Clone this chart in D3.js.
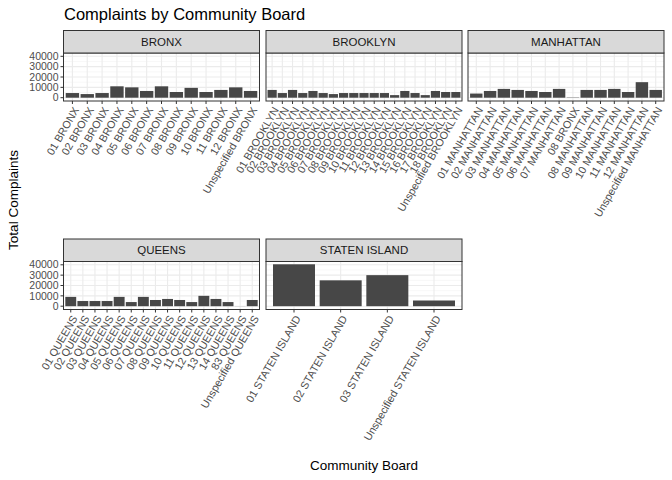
<!DOCTYPE html><html><head><script src="https://cdn.jsdelivr.net/npm/d3@7"></script>
<style>body{margin:0;background:#fff}text{font-family:"Liberation Sans",Arial,sans-serif}</style></head><body><svg id="c" width="672" height="480"></svg>
<script>
const bronxBoards=["01 BRONX","02 BRONX","03 BRONX","04 BRONX","05 BRONX","06 BRONX","07 BRONX","08 BRONX","09 BRONX","10 BRONX","11 BRONX","12 BRONX","Unspecified BRONX"];
const bronxValues=[4500,3500,4500,11000,10000,6500,11000,5500,9500,5500,7500,10000,6500];
const brooklynBoards=[...Array(18)].map((_,i)=>String(i+1).padStart(2,"0")+" BROOKLYN").concat(["Unspecified BROOKLYN"]);
const brooklynValues=[7500,4500,7500,4500,6500,4500,3500,4500,4500,4500,4500,4500,2500,6500,4500,2500,6500,5500,5500];
const manhattanBoards=["01 MANHATTAN","02 MANHATTAN","03 MANHATTAN","04 MANHATTAN","05 MANHATTAN","06 MANHATTAN","07 MANHATTAN","08 BRONX","08 MANHATTAN","09 MANHATTAN","10 MANHATTAN","11 MANHATTAN","12 MANHATTAN","Unspecified MANHATTAN"];
const manhattanValues=[4000,6500,8500,7500,6500,5500,8500,300,7500,7500,8500,5500,15000,7500];
const queensBoards=[...Array(14)].map((_,i)=>String(i+1).padStart(2,"0")+" QUEENS").concat(["83 QUEENS","Unspecified QUEENS"]);
const queensValues=[9000,5000,5000,5000,9000,4000,9000,6000,7000,6000,4000,10000,7000,4000,100,6000];
const statenBoards=["01 STATEN ISLAND","02 STATEN ISLAND","03 STATEN ISLAND","Unspecified STATEN ISLAND"];
const statenValues=[40500,25000,30000,5500];
const yTicks=[0,10000,20000,30000,40000];

const panels=[
 {name:"BRONX",b:bronxBoards,v:bronxValues,x0:63.5,row:0},
 {name:"BROOKLYN",b:brooklynBoards,v:brooklynValues,x0:266,row:0},
 {name:"MANHATTAN",b:manhattanBoards,v:manhattanValues,x0:468,row:0},
 {name:"QUEENS",b:queensBoards,v:queensValues,x0:63.5,row:1},
 {name:"STATEN ISLAND",b:statenBoards,v:statenValues,x0:266,row:1}];
const svg=d3.select("#c");
const W=196, rows=[{st:30.5,pt:53,pb:101},{st:239,pt:261.5,pb:309.5}];
svg.append("text").attr("x",64).attr("y",20).attr("font-size",16.5).attr("fill","#000").text("Complaints by Community Board");
panels.forEach(p=>{
 const r=rows[p.row];
 const y=d3.scaleLinear().domain([0,40000]).range([r.pb-3.3,r.pb-3.3-41.4]);
 const n=p.b.length, unit=W/(n-1+1.2);
 const xc=i=>p.x0+unit*(0.6+i);
 const g=svg.append("g");
 g.append("rect").attr("x",p.x0).attr("y",r.pt).attr("width",W).attr("height",r.pb-r.pt).attr("fill","#fff");
 const minor=d3.range(-5000,50000,10000).filter(v=>y(v)>r.pt&&y(v)<r.pb);
 minor.forEach(v=>g.append("line").attr("x1",p.x0).attr("x2",p.x0+W).attr("y1",y(v)).attr("y2",y(v)).attr("stroke","#f2f2f2").attr("stroke-width",0.6));
 yTicks.forEach(v=>g.append("line").attr("x1",p.x0).attr("x2",p.x0+W).attr("y1",y(v)).attr("y2",y(v)).attr("stroke","#ebebeb").attr("stroke-width",1.1));
 p.b.forEach((_,i)=>g.append("line").attr("x1",xc(i)).attr("x2",xc(i)).attr("y1",r.pt).attr("y2",r.pb).attr("stroke","#ebebeb").attr("stroke-width",1.1));
 p.v.forEach((v,i)=>g.append("rect").attr("x",xc(i)-unit*0.45).attr("width",unit*0.9).attr("y",y(v)).attr("height",y(0)-y(v)).attr("fill","#474747"));
 g.append("rect").attr("x",p.x0).attr("y",r.pt).attr("width",W).attr("height",r.pb-r.pt).attr("fill","none").attr("stroke","#333").attr("stroke-width",1);
 g.append("rect").attr("x",p.x0).attr("y",r.st).attr("width",W).attr("height",r.pt-r.st).attr("fill","#d9d9d9").attr("stroke","#333").attr("stroke-width",1);
 g.append("text").attr("x",p.x0+W/2).attr("y",(r.st+r.pt)/2+4).attr("text-anchor","middle").attr("font-size",11.5).attr("fill","#1a1a1a").text(p.name);
 p.b.forEach((b,i)=>{
  g.append("line").attr("x1",xc(i)).attr("x2",xc(i)).attr("y1",r.pb).attr("y2",r.pb+3).attr("stroke","#333");
  g.append("text").attr("transform",`translate(${xc(i)+0.5},${r.pb+5}) rotate(-60)`).attr("text-anchor","end").attr("dy","0.7em").attr("font-size",10.8).attr("fill","#4d4d4d").text(b);
 });
 if(p.x0<100){
  yTicks.forEach(v=>{
   g.append("line").attr("x1",p.x0-3).attr("x2",p.x0).attr("y1",y(v)).attr("y2",y(v)).attr("stroke","#333");
   g.append("text").attr("x",p.x0-5).attr("y",y(v)).attr("dy","0.35em").attr("text-anchor","end").attr("font-size",10.5).attr("fill","#4d4d4d").text(v);
  });
 }
});
svg.append("text").attr("transform","translate(18,200) rotate(-90)").attr("text-anchor","middle").attr("font-size",13.5).text("Total Complaints");
svg.append("text").attr("x",364).attr("y",470).attr("text-anchor","middle").attr("font-size",13.5).text("Community Board");
</script></body></html>
